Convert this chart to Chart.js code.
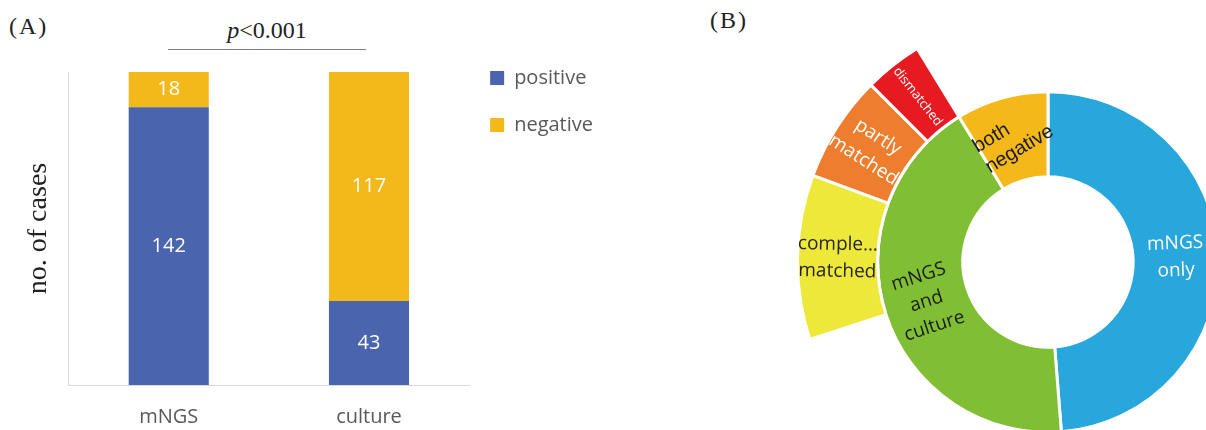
<!DOCTYPE html>
<html>
<head>
<meta charset="utf-8">
<script src="https://cdn.jsdelivr.net/npm/chart.js@4.4.1/dist/chart.umd.min.js"></script>
<style>
  html, body { margin: 0; padding: 0; width: 1206px; height: 430px; overflow: hidden; background: #fff; }
  .tag { position: absolute; font-family: "Liberation Serif", serif; font-size: 24px; color: #222; letter-spacing: 2px; }
  #pval { position: absolute; left: 168px; top: 16px; width: 198px; line-height: 28px; text-align: center;
          font-family: "Liberation Serif", serif; font-size: 24px; color: #222; }
  #pline { position: absolute; left: 168px; top: 49px; width: 198px; border-top: 1px solid #808080; }
  #barWrap { position: absolute; left: 0; top: 0; width: 609px; height: 450px; }
  #ringWrap { position: absolute; left: 796px; top: 10px; width: 504px; height: 504px; }
</style>
</head>
<body>
<div class="tag" style="left:9px;top:13px;">(A)</div>
<div class="tag" style="left:710px;top:7px;">(B)</div>
<div id="pval"><i>p</i>&lt;0.001</div>
<div id="pline"></div>
<div id="barWrap"><canvas id="barCanvas"></canvas></div>
<div id="ringWrap"><canvas id="ringCanvas"></canvas></div>
<script>
// panel A: stacked counts
const barCategories = ['mNGS', 'culture'];
const positiveCounts = [142, 43];
const negativeCounts = [18, 117];

// panel B: inner ring (all cases) and outer ring (split of "mNGS and culture")
const innerLabels = [['mNGS', 'only'], ['mNGS', 'and', 'culture'], ['both', 'negative']];
const innerValues = [78, 68, 14];
const outerLabels = [null, null, ['comple\u2026', 'matched'], ['partly', 'matched'], ['dismatched'], null];
const outerValues = [78, 34, 17, 11, 6, 14];

const CLEAR = 'rgba(0,0,0,0)';

// writes the value in the middle of each stacked segment
const barValueLabels = {
  id: 'barValueLabels',
  afterDatasetsDraw(chart) {
    const ctx = chart.ctx;
    ctx.save();
    ctx.font = '20px "Open Sans"';
    ctx.fillStyle = '#fff';
    ctx.textAlign = 'center';
    ctx.textBaseline = 'middle';
    chart.data.datasets.forEach((ds, di) => {
      chart.getDatasetMeta(di).data.forEach((bar, i) => {
        const { x, y, base } = bar.getProps(['x', 'y', 'base'], true);
        ctx.fillText(String(ds.data[i]), x, (y + base) / 2);
      });
    });
    ctx.restore();
  }
};

// legend sits a bit higher and closer than chart.js puts it
const legendNudge = {
  id: 'legendNudge',
  afterLayout(chart) {
    const lg = chart.legend;
    lg.left = chart.chartArea.right - 6;
    lg.top = 41;
  }
};

// radial text inside each ring segment
const ringLabels = {
  id: 'ringLabels',
  afterDatasetsDraw(chart) {
    const ctx = chart.ctx;
    chart.data.datasets.forEach((ds, di) => {
      chart.getDatasetMeta(di).data.forEach((arc, i) => {
        const lines = ds.segLabels[i];
        if (!lines) return;
        const p = arc.getProps(['x', 'y', 'startAngle', 'endAngle', 'innerRadius', 'outerRadius'], true);
        const a = (p.startAngle + p.endAngle) / 2;
        const r = (p.innerRadius + p.outerRadius) / 2;
        let rot = Math.cos(a) >= 0 ? a : a - Math.PI;
        if (ds.labelTilt && ds.labelTilt[i] != null) rot = ds.labelTilt[i] * Math.PI / 180;
        const st = ds.labelStyle[i];
        ctx.save();
        ctx.translate(p.x + Math.cos(a) * r, p.y + Math.sin(a) * r);
        ctx.rotate(rot);
        ctx.font = st.font;
        ctx.fillStyle = st.color;
        ctx.textBaseline = 'middle';
        let x0 = 0;
        if (st.left) {
          ctx.textAlign = 'left';
          x0 = -Math.max(...lines.map(t => ctx.measureText(t).width)) / 2;
        } else {
          ctx.textAlign = 'center';
        }
        lines.forEach((t, k) => ctx.fillText(t, x0, (k - (lines.length - 1) / 2) * st.lh));
        ctx.restore();
      });
    });
  }
};

new Chart(document.getElementById('barCanvas'), {
  type: 'bar',
  data: {
    labels: barCategories,
    datasets: [
      { label: 'positive', data: positiveCounts, backgroundColor: '#4A64AE' },
      { label: 'negative', data: negativeCounts, backgroundColor: '#F3B81A' }
    ]
  },
  options: {
    responsive: true,
    maintainAspectRatio: false,
    animation: false,
    layout: { padding: { top: 72, left: 21, right: 0, bottom: 1 } },
    datasets: { bar: { categoryPercentage: 1, barPercentage: 0.4 } },
    scales: {
      x: {
        stacked: true,
        grid: { display: false, drawTicks: false },
        border: { color: '#d9d9d9' },
        ticks: { color: '#595959', font: { family: 'Open Sans', size: 20 }, padding: 20 }
      },
      y: {
        stacked: true, min: 0, max: 160,
        grid: { display: false, drawTicks: false },
        border: { color: '#d9d9d9' },
        ticks: { display: false },
        title: {
          display: true, text: 'no. of cases', color: '#222',
          font: { family: 'Liberation Serif', size: 28 },
          padding: { top: 1, bottom: 13 }
        }
      }
    },
    plugins: {
      legend: {
        position: 'right', align: 'start',
        labels: { boxWidth: 14, boxHeight: 14, padding: 27, color: '#595959', font: { family: 'Open Sans', size: 20 } }
      },
      tooltip: { enabled: false }
    }
  },
  plugins: [barValueLabels, legendNudge]
});

const sans19 = '19px "Open Sans"';
new Chart(document.getElementById('ringCanvas'), {
  type: 'doughnut',
  data: {
    datasets: [
      {
        data: outerValues,
        segLabels: outerLabels,
        backgroundColor: [CLEAR, CLEAR, '#EDE83A', '#EE7E2E', '#E81A21', CLEAR],
        borderColor: [CLEAR, CLEAR, '#fff', '#fff', '#fff', CLEAR],
        borderWidth: [0, 0, 3, 3, 3, 0],
        weight: 80,
        labelStyle: [null, null,
          { font: sans19, color: '#262626', lh: 27 },
          { font: sans19, color: '#fff', lh: 27 },
          { font: '13px "Open Sans"', color: '#fff', lh: 18 },
          null]
      },
      {
        data: innerValues,
        segLabels: innerLabels,
        backgroundColor: ['#27A7DB', '#80BE33', '#F4B81A'],
        borderColor: '#fff',
        borderWidth: 3,
        weight: 85,
        labelTilt: [null, null, -31],
        labelStyle: [
          { font: sans19, color: '#fff', lh: 27 },
          { font: sans19, color: '#1a1a1a', lh: 26 },
          { font: '20px "Liberation Sans"', color: '#1a1a1a', lh: 24, left: true }
        ]
      }
    ]
  },
  options: {
    responsive: true,
    maintainAspectRatio: false,
    animation: false,
    cutout: '34%',
    layout: { padding: 0 },
    plugins: { legend: { display: false }, tooltip: { enabled: false } }
  },
  plugins: [ringLabels]
});
</script>
</body>
</html>
